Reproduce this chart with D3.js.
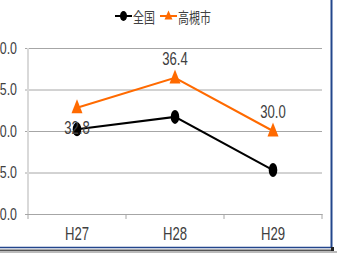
<!DOCTYPE html>
<html>
<head>
<meta charset="utf-8">
<script src="https://cdn.jsdelivr.net/npm/d3@7"></script>
<style>
  html, body { margin: 0; padding: 0; background: #fff; }
  svg { display: block; }
</style>
</head>
<body>
<div id="chart"></div>
<script>
// data
const categories = ["H27", "H28", "H29"];
const nationalValues = [30.2, 31.7, 25.3];   // 全国
const takatsukiValues = [32.8, 36.4, 30.0];  // 高槻市
const labelSide = ["below", "above", "above"];
const yTicks = [20, 25, 30, 35, 40];
const seriesNames = ["全国", "高槻市"];

const W = 337, H = 253;
const sx = 0.73; // texts look squeezed sideways
const textColor = "#404040";
const orange = "#ff6a00";

const svg = d3.select("#chart").append("svg")
  .attr("width", W).attr("height", H)
  .attr("viewBox", `0 0 ${W} ${H}`);

svg.append("rect").attr("width", W).attr("height", H).attr("fill", "#fff");

const x = d3.scaleBand().domain(categories).range([28, 322]).padding(0);
const y = d3.scaleLinear().domain([20, 40]).range([214, 48]);
const cx = d => x(d) + x.bandwidth() / 2;

// gridlines + y labels
const yAxis = svg.append("g")
  .attr("transform", "translate(322,0)")
  .call(d3.axisLeft(y).tickValues(yTicks).tickSize(297).tickPadding(8).tickFormat(d3.format(".1f")));
yAxis.select(".domain").remove();
yAxis.selectAll("line").attr("stroke", "#a6a6a6").attr("stroke-width", 1);
yAxis.selectAll("text")
  .attr("fill", textColor)
  .style("font-family", "'Liberation Sans', Arial, sans-serif")
  .style("font-size", "17px")
  .each(function () {
    const t = d3.select(this);
    const tx = +t.attr("x");
    t.attr("x", 0).attr("transform", `translate(${tx},0) scale(${sx},1)`);
  });

// left axis line
svg.append("line")
  .attr("x1", 28).attr("x2", 28).attr("y1", 48).attr("y2", 214)
  .attr("stroke", "#d9d9d9").attr("stroke-width", 2);

// x axis
const xAxis = svg.append("g")
  .attr("transform", "translate(0,214)")
  .call(d3.axisBottom(x).tickSize(0).tickPadding(13));
xAxis.select(".domain").attr("stroke", "#a6a6a6");
xAxis.selectAll("text")
  .attr("fill", textColor)
  .style("font-family", "'Liberation Sans', Arial, sans-serif")
  .style("font-size", "18px")
  .attr("transform", `scale(${sx},1)`)
  .attr("x", function () { return 0; });
xAxis.selectAll(".tick").each(function () {
  const g = d3.select(this);
  const tr = g.attr("transform");
  const m = /translate\(([-\d.]+)/.exec(tr);
  g.select("text").attr("transform", `scale(${sx},1)`);
});
// boundary ticks
xAxis.selectAll("line.bound")
  .data(d3.range(categories.length + 1))
  .enter().append("line")
  .attr("class", "bound")
  .attr("x1", i => 28 + i * x.step()).attr("x2", i => 28 + i * x.step())
  .attr("y1", 0).attr("y2", 5)
  .attr("stroke", "#a6a6a6");

// lines
const line = d3.line().x((d, i) => cx(categories[i])).y(d => y(d));

svg.append("path").datum(nationalValues)
  .attr("d", line).attr("fill", "none").attr("stroke", "#000").attr("stroke-width", 2);
svg.append("path").datum(takatsukiValues)
  .attr("d", line).attr("fill", "none").attr("stroke", orange).attr("stroke-width", 2);

// markers
svg.selectAll("ellipse.nat").data(nationalValues).enter().append("ellipse")
  .attr("class", "nat")
  .attr("cx", (d, i) => cx(categories[i])).attr("cy", d => y(d))
  .attr("rx", 4.3).attr("ry", 7).attr("fill", "#000");

const tri = (px, py, w, h) => `M${px},${py - h * 0.6}L${px + w / 2},${py + h * 0.4}L${px - w / 2},${py + h * 0.4}Z`;
svg.selectAll("path.tak").data(takatsukiValues).enter().append("path")
  .attr("class", "tak")
  .attr("d", (d, i) => tri(cx(categories[i]), y(d), 11, 14))
  .attr("fill", orange);

// data labels for 高槻市
svg.selectAll("text.lab").data(takatsukiValues).enter().append("text")
  .attr("class", "lab")
  .attr("transform", (d, i) => `translate(${cx(categories[i])},${y(d) + (labelSide[i] === "below" ? 26 : -13)}) scale(${sx},1)`)
  .attr("text-anchor", "middle")
  .attr("fill", textColor)
  .style("font-family", "'Liberation Sans', Arial, sans-serif")
  .style("font-size", "18px")
  .text(d => d3.format(".1f")(d));

// legend
const leg = svg.append("g");
leg.append("line").attr("x1", 115).attr("x2", 132).attr("y1", 16).attr("y2", 16)
  .attr("stroke", "#000").attr("stroke-width", 2);
leg.append("ellipse").attr("cx", 123.5).attr("cy", 16).attr("rx", 3.5).attr("ry", 5).attr("fill", "#000");
leg.append("text").attr("transform", `translate(133,23) scale(${sx},1)`)
  .attr("fill", textColor)
  .style("font-family", "'Noto Sans CJK JP', sans-serif").style("font-size", "15px")
  .text(seriesNames[0]);
leg.append("line").attr("x1", 160).attr("x2", 177).attr("y1", 16).attr("y2", 16)
  .attr("stroke", orange).attr("stroke-width", 2);
leg.append("path").attr("d", tri(168.5, 16, 8, 9)).attr("fill", orange);
leg.append("text").attr("transform", `translate(178,23) scale(${sx},1)`)
  .attr("fill", textColor)
  .style("font-family", "'Noto Sans CJK JP', sans-serif").style("font-size", "15px")
  .text(seriesNames[1]);

// window frame at right and bottom
svg.append("line").attr("x1", 331.5).attr("x2", 331.5).attr("y1", 0).attr("y2", 248)
  .attr("stroke", "#23468c").attr("stroke-width", 2);
svg.append("line").attr("x1", 0).attr("x2", 332).attr("y1", 247.5).attr("y2", 247.5)
  .attr("stroke", "#23468c").attr("stroke-width", 1.5);
svg.append("rect").attr("x", 0).attr("y", 249.5).attr("width", 334).attr("height", 1.5).attr("fill", "#555");
svg.append("rect").attr("x", 0).attr("y", 251).attr("width", W).attr("height", 2).attr("fill", "#bbb");
svg.append("rect").attr("x", 331).attr("y", 247).attr("width", 3).attr("height", 4).attr("fill", "#222");
</script>
</body>
</html>
